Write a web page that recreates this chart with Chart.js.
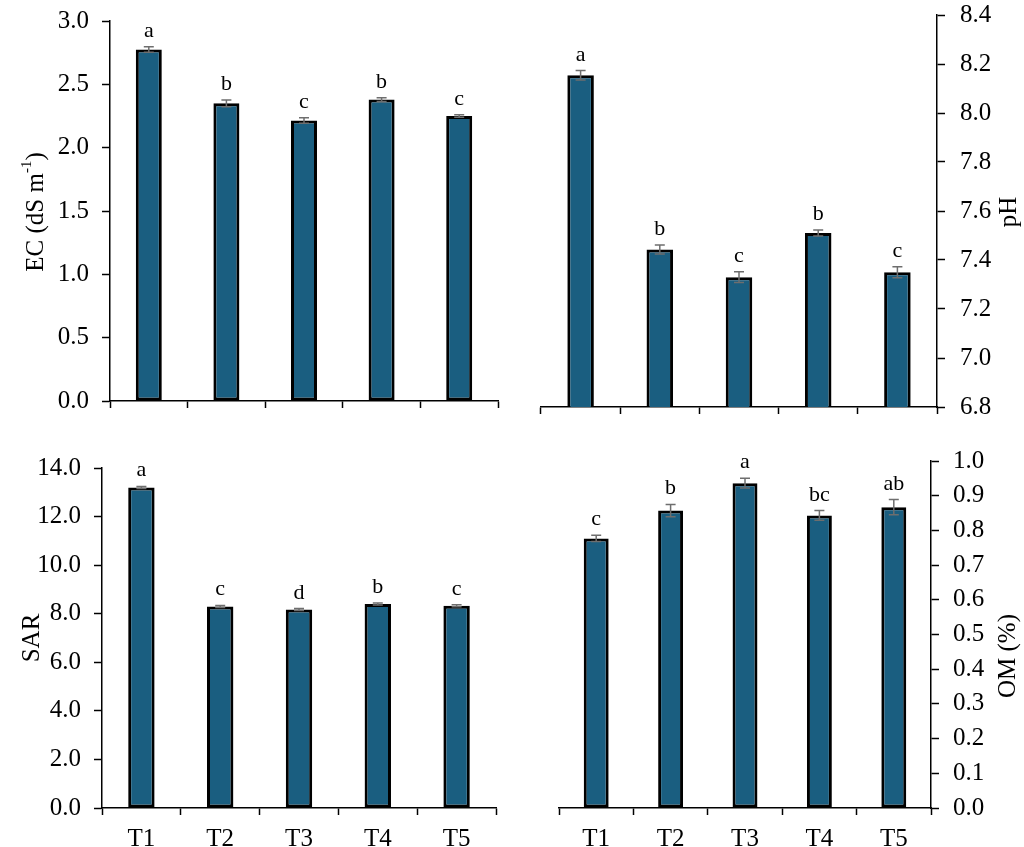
<!DOCTYPE html>
<html><head><meta charset="utf-8">
<script src="https://cdn.jsdelivr.net/npm/chart.js@4.4.0/dist/chart.umd.min.js"></script>
<style>
html,body{margin:0;padding:0;background:#fff;}
#wrap{position:relative;width:1024px;height:847px;overflow:hidden;background:#fff;}
canvas{position:absolute;}
</style></head><body>
<div id="wrap">
<canvas id="cEC" width="520" height="420" style="left:0;top:0"></canvas>
<canvas id="cPH" width="504" height="420" style="left:520px;top:0"></canvas>
<canvas id="cSAR" width="520" height="427" style="left:0;top:420px"></canvas>
<canvas id="cOM" width="504" height="427" style="left:520px;top:420px"></canvas>
</div>
<script>
// ---- data ----
const treatments = ['T1', 'T2', 'T3', 'T4', 'T5'];

const ecValues  = [2.775, 2.35, 2.215, 2.38, 2.25];
const ecErrors  = [0.022, 0.026, 0.022, 0.015, 0.01];
const ecLetters = ['a', 'b', 'c', 'b', 'c'];

const phValues  = [8.154, 7.443, 7.33, 7.51, 7.35];
const phErrors  = [0.019, 0.018, 0.022, 0.012, 0.022];
const phLetters = ['a', 'b', 'c', 'b', 'c'];

const sarValues  = [13.2, 8.3, 8.17, 8.4, 8.33];
const sarErrors  = [0.04, 0.04, 0.04, 0.04, 0.04];
const sarLetters = ['a', 'c', 'd', 'b', 'c'];

const omValues  = [0.777, 0.857, 0.936, 0.843, 0.867];
const omErrors  = [0.009, 0.018, 0.014, 0.014, 0.022];
const omLetters = ['c', 'b', 'a', 'bc', 'ab'];

// ---- style ----
const FONT = '"Liberation Serif", "Times New Roman", serif';
const BAR = '#1a5e80';
Chart.defaults.font.family = FONT;
Chart.defaults.color = '#000';

const errPlugin = {
  id: 'errLetters',
  afterDatasetsDraw(chart, args, opts) {
    const ctx = chart.ctx;
    const meta = chart.getDatasetMeta(0);
    const ys = chart.scales.y;
    ctx.save();
    meta.data.forEach((bar, i) => {
      const v = opts.values[i], e = opts.errors[i];
      const x = bar.x;
      const yTop = ys.getPixelForValue(v + e);
      const yBot = ys.getPixelForValue(v - e);
      ctx.strokeStyle = '#6e6e6e';
      ctx.lineWidth = 1.5;
      ctx.beginPath();
      ctx.moveTo(x, yTop); ctx.lineTo(x, yBot);
      ctx.moveTo(x - 5, yTop); ctx.lineTo(x + 5, yTop);
      ctx.moveTo(x - 5, yBot); ctx.lineTo(x + 5, yBot);
      ctx.stroke();
      ctx.fillStyle = '#000';
      ctx.font = '22px ' + FONT;
      ctx.textAlign = 'center';
      ctx.textBaseline = 'alphabetic';
      ctx.fillText(opts.letters[i], x, yTop - 10);
    });
    ctx.restore();
  }
};

const titlePlugin = {
  id: 'axisTitle',
  afterDraw(chart, args, opts) {
    const ctx = chart.ctx;
    ctx.save();
    ctx.fillStyle = '#000';
    ctx.textBaseline = 'middle';
    ctx.textAlign = 'left';
    let total = 0;
    opts.parts.forEach(p => { ctx.font = p.size + 'px ' + FONT; p.w = ctx.measureText(p.text).width; total += p.w; });
    ctx.translate(opts.x, opts.y);
    ctx.rotate(-Math.PI / 2);
    let cx = -total / 2;
    opts.parts.forEach(p => {
      ctx.font = p.size + 'px ' + FONT;
      ctx.fillText(p.text, cx, -(p.rise || 0));
      cx += p.w;
    });
    ctx.restore();
  }
};

function makeChart(id, c) {
  const canvas = document.getElementById(id);
  const W = canvas.width;
  const pad = {
    left: c.yPos === 'left' ? 0 : c.area.left,
    right: c.yPos === 'right' ? 0 : W - c.area.right,
    top: c.area.top,
    bottom: 0
  };
  const chart = new Chart(canvas, {
    type: 'bar',
    data: {
      labels: treatments,
      datasets: [{
        data: c.values,
        backgroundColor: BAR,
        borderColor: '#000',
        borderWidth: 3,
        borderSkipped: false,
        categoryPercentage: 1,
        barPercentage: 0.335
      }]
    },
    options: {
      responsive: false,
      animation: false,
      devicePixelRatio: 1,
      layout: { padding: pad },
      plugins: {
        legend: { display: false },
        tooltip: { enabled: false },
        errLetters: { values: c.values, errors: c.errors, letters: c.letters },
        axisTitle: { parts: c.title, x: c.titleX, y: c.titleY }
      },
      scales: {
        x: {
          offset: true,
          grid: { offset: true, display: true, drawOnChartArea: false, drawTicks: true, tickLength: 7, tickColor: '#000', tickWidth: 1.5 },
          border: { display: true, color: '#000', width: 1.5 },
          ticks: { display: c.showX, color: '#000', font: { family: FONT, size: 25 }, padding: 9, maxRotation: 0, autoSkip: false },
          afterFit(s) { s.height = c.xH; s.paddingLeft = 0; s.paddingRight = 0; }
        },
        y: {
          position: c.yPos,
          min: c.min, max: c.max,
          grid: { display: true, drawOnChartArea: false, drawTicks: true, tickLength: 8, tickColor: '#000', tickWidth: 1.5 },
          border: { display: true, color: '#000', width: 1.5 },
          ticks: { stepSize: c.step, color: '#000', font: { family: FONT, size: 25 }, padding: c.tickPad, autoSkip: false, callback: v => Number(v).toFixed(1) },
          afterFit(s) { s.width = c.yW; s.paddingTop = 0; s.paddingBottom = 0; }
        }
      }
    },
    plugins: [errPlugin, titlePlugin]
  });
  // nudge layout padding so the plot area lands exactly on the target box
  for (let k = 0; k < 3; k++) {
    const a = chart.chartArea;
    const p = chart.options.layout.padding;
    const dl = c.area.left - a.left, dt = c.area.top - a.top;
    const dr = a.right - c.area.right, db = a.bottom - c.area.bottom;
    if (Math.abs(dl) + Math.abs(dt) + Math.abs(dr) + Math.abs(db) < 0.5) break;
    p.left += dl; p.top += dt; p.right += dr; p.bottom += db;
    chart.update('none');
  }
  return chart;
}

makeChart('cEC', {
  values: ecValues, errors: ecErrors, letters: ecLetters,
  min: 0, max: 3, step: 0.5, yPos: 'left', yW: 110, xH: 19, showX: false, tickPad: 13,
  area: { left: 110, top: 21, right: 498, bottom: 401 },
  title: [{ text: 'EC (dS m', size: 25 }, { text: '-1', size: 15, rise: 9 }, { text: ')', size: 25 }],
  titleX: 36, titleY: 212
});
makeChart('cPH', {
  values: phValues, errors: phErrors, letters: phLetters,
  min: 6.8, max: 8.4, step: 0.2, yPos: 'right', yW: 87, xH: 13, showX: false, tickPad: 15,
  area: { left: 21, top: 15, right: 417, bottom: 407 },
  title: [{ text: 'pH', size: 25 }],
  titleX: 489, titleY: 212
});
makeChart('cSAR', {
  values: sarValues, errors: sarErrors, letters: sarLetters,
  min: 0, max: 14, step: 2, yPos: 'left', yW: 102, xH: 39, showX: true, tickPad: 13,
  area: { left: 102, top: 48, right: 496, bottom: 388 },
  title: [{ text: 'SAR', size: 25 }],
  titleX: 32, titleY: 218
});
makeChart('cOM', {
  values: omValues, errors: omErrors, letters: omLetters,
  min: 0, max: 1, step: 0.1, yPos: 'right', yW: 93, xH: 39, showX: true, tickPad: 14,
  area: { left: 39, top: 41, right: 411, bottom: 388 },
  title: [{ text: 'OM (%)', size: 25 }],
  titleX: 488, titleY: 236
});
</script>
</body></html>
